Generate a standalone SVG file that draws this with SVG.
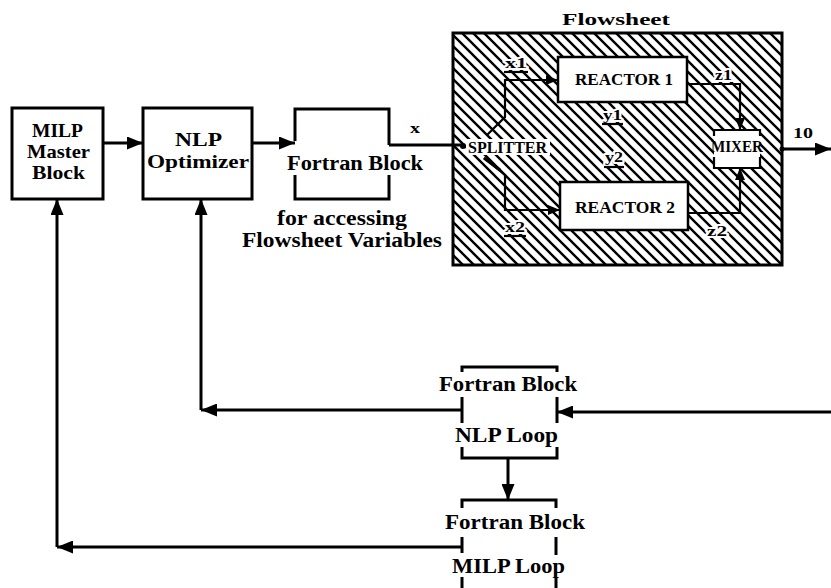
<svg xmlns="http://www.w3.org/2000/svg" width="831" height="588" viewBox="0 0 831 588">
<defs>
<pattern id="hatch" patternUnits="userSpaceOnUse" width="11" height="11">
<path d="M-1,-1 L12,12 M-1,10 L1,12 M10,-1 L12,1" stroke="#000" stroke-width="2.4" fill="none"/>
</pattern>
<marker id="ah" markerUnits="userSpaceOnUse" markerWidth="17" markerHeight="13" refX="16" refY="6.5" orient="auto">
<path d="M0,0 L16,6.5 L0,13 z" fill="#000"/>
</marker>
<marker id="ahs" markerUnits="userSpaceOnUse" markerWidth="13" markerHeight="10" refX="12" refY="5" orient="auto">
<path d="M0,0 L12,5 L0,10 z" fill="#000"/>
</marker>
</defs>
<style>
text{font-family:"Liberation Serif","Times New Roman",serif;font-weight:bold;fill:#000}
.big{font-size:20px}
.bx{font-size:19px}
.mid{font-size:16px}
.sm{font-size:15px}
.box{fill:#fff;stroke:#000;stroke-width:3}
.br{fill:none;stroke:#000;stroke-width:3}
.thin{fill:none;stroke:#000;stroke-width:2.2}
.halo{paint-order:stroke;stroke:#fff;stroke-width:4px;stroke-linejoin:round}
.conn path{fill:none;stroke:#000;stroke-width:3}
.conn .in{stroke-width:2.2}
</style>
<rect width="831" height="588" fill="#fff"/>

<g id="flowsheet">
<rect x="453" y="33" width="329" height="232" fill="url(#hatch)" stroke="#000" stroke-width="3"/>
<text class="mid" x="562" y="25" textLength="108" lengthAdjust="spacingAndGlyphs">Flowsheet</text>
</g>

<g id="milp-master">
<rect class="box" x="12" y="108" width="91" height="91"/>
<text class="bx" x="32" y="137" textLength="51" lengthAdjust="spacingAndGlyphs">MILP</text>
<text class="bx" x="27" y="158" textLength="63" lengthAdjust="spacingAndGlyphs">Master</text>
<text class="bx" x="32" y="179" textLength="53" lengthAdjust="spacingAndGlyphs">Block</text>
</g>

<g id="nlp-optimizer">
<rect class="box" x="143" y="108" width="109" height="91"/>
<text class="bx" x="175" y="146" textLength="47" lengthAdjust="spacingAndGlyphs">NLP</text>
<text class="bx" x="147" y="168" textLength="102" lengthAdjust="spacingAndGlyphs">Optimizer</text>
</g>

<g id="fortran-access">
<path class="br" d="M295,141 L295,109 L389,109 L389,145 M295,175 L295,199 L389,199 L389,175"/>
<text class="big" x="287" y="170" textLength="136" lengthAdjust="spacingAndGlyphs">Fortran Block</text>
<text class="big" x="277" y="225" textLength="130" lengthAdjust="spacingAndGlyphs">for accessing</text>
<text class="big" x="242" y="247" textLength="200" lengthAdjust="spacingAndGlyphs">Flowsheet Variables</text>
</g>

<g id="reactor1">
<rect x="558" y="57" width="129" height="45" fill="#fff" stroke="#000" stroke-width="2.5"/>
<text class="mid" x="575" y="85" textLength="98" lengthAdjust="spacingAndGlyphs">REACTOR 1</text>
</g>

<g id="reactor2">
<rect x="560" y="182" width="128" height="48" fill="#fff" stroke="#000" stroke-width="2.5"/>
<text class="mid" x="575" y="213" textLength="100" lengthAdjust="spacingAndGlyphs">REACTOR 2</text>
</g>

<g id="mixer">
<rect x="714" y="130" width="46" height="38" fill="#fff"/>
<path class="thin" d="M714,136 L714,130 L760,130 L760,136 M714,157 L714,168 L760,168 L760,157"/>
<text class="mid" x="711" y="152" textLength="52" lengthAdjust="spacingAndGlyphs">MIXER</text>
</g>

<g id="splitter">
<rect x="466" y="139" width="84" height="16" fill="#fff"/>
<text class="mid" x="468" y="153" textLength="79" lengthAdjust="spacingAndGlyphs">SPLITTER</text>
</g>

<g id="nlp-loop">
<path class="br" d="M462,372 L462,367 L557,367 L557,372 M462,397 L462,423 M557,397 L557,423 M462,447 L462,458 L557,458 L557,447"/>
<text class="big" x="439" y="391" textLength="138" lengthAdjust="spacingAndGlyphs">Fortran Block</text>
<text class="big" x="455" y="442" textLength="103" lengthAdjust="spacingAndGlyphs">NLP Loop</text>
</g>

<g id="milp-loop">
<path class="br" d="M462,508 L462,500 L556,500 L556,508 M462,537 L462,553 M556,537 L556,555 M462,577 L462,588 M556,577 L556,588"/>
<text class="big" x="445" y="529" textLength="140" lengthAdjust="spacingAndGlyphs">Fortran Block</text>
<text class="big" x="452" y="573" textLength="113" lengthAdjust="spacingAndGlyphs">MILP Loop</text>
</g>

<g id="connectors" class="conn">
<path d="M103,143 L143,143" marker-end="url(#ah)"/>
<path d="M252,143 L295,143" marker-end="url(#ah)"/>
<path d="M389,145 L464,145"/>
<circle cx="463" cy="146" r="3" fill="#000"/>
<path class="in" d="M487,135 L505,117 L505,80 L558,80" marker-end="url(#ahs)"/>
<path class="in" d="M484,158 L505,175 L505,210 L560,210" marker-end="url(#ahs)"/>
<path d="M484,158 L500,170" stroke-width="4"/>
<path class="in" d="M687,84 L740,84 L740,130" marker-end="url(#ahs)"/>
<path class="in" d="M688,213 L740,213 L740,168" marker-end="url(#ahs)"/>
<path d="M782,149 L831,149" marker-end="url(#ah)"/>
<circle cx="782" cy="149" r="2.5" fill="#000"/>
<path d="M831,412 L557,412" marker-end="url(#ah)"/>
<path d="M462,410 L201,410" marker-end="url(#ah)"/>
<path d="M201,410 L201,199" marker-end="url(#ah)"/>
<path d="M508,458 L508,500" marker-end="url(#ah)"/>
<path d="M462,547 L57,547" marker-end="url(#ah)"/>
<path d="M57,547 L57,199" marker-end="url(#ah)"/>
</g>

<g id="labels">
<text class="sm" x="410" y="133" textLength="10" lengthAdjust="spacingAndGlyphs">x</text>
<text class="sm" x="793" y="138" textLength="20" lengthAdjust="spacingAndGlyphs">10</text>
<text class="sm halo" x="505" y="68" textLength="22" lengthAdjust="spacingAndGlyphs">x1</text>
<path class="thin" d="M504,72 L528,72"/>
<text class="sm halo" x="603" y="120" textLength="19" lengthAdjust="spacingAndGlyphs">y1</text>
<path class="thin" d="M602,124 L623,124"/>
<text class="sm halo" x="605" y="162" textLength="18" lengthAdjust="spacingAndGlyphs">y2</text>
<path class="thin" d="M604,167 L624,167"/>
<text class="sm halo" x="505" y="232" textLength="20" lengthAdjust="spacingAndGlyphs">x2</text>
<path class="thin" d="M504,236 L526,236"/>
<text class="sm halo" x="715" y="80" textLength="17" lengthAdjust="spacingAndGlyphs">z1</text>
<text class="sm halo" x="707" y="236" textLength="20" lengthAdjust="spacingAndGlyphs">z2</text>
</g>
</svg>
